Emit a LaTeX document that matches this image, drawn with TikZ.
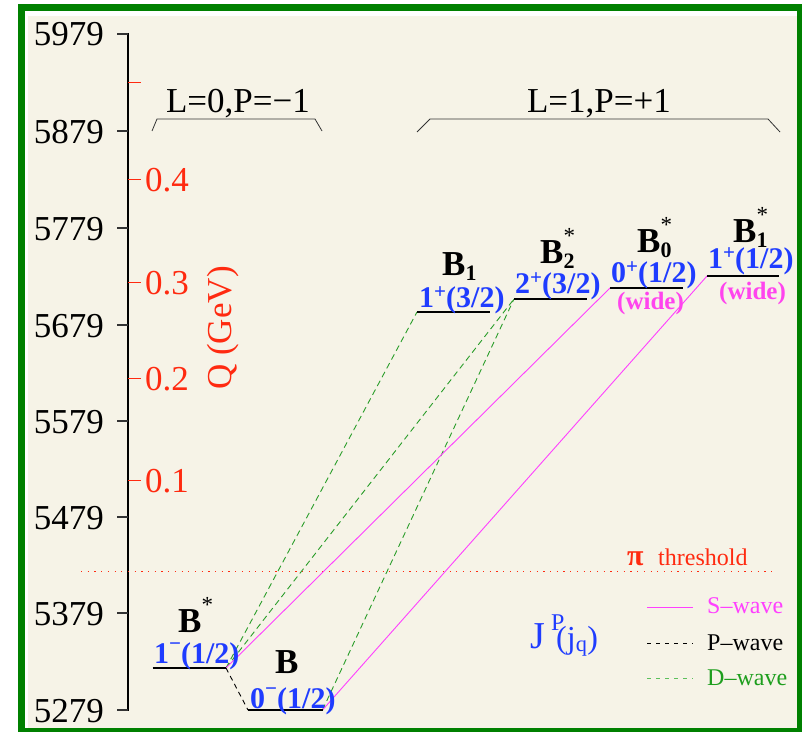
\documentclass[tikz,border=0pt]{standalone}
\usepackage{fontspec}
\setmainfont{Liberation Serif}
\definecolor{bgc}{HTML}{F6F3E7}
\definecolor{fgreen}{HTML}{008000}
\definecolor{lblue}{HTML}{1F3CFF}
\definecolor{mag}{HTML}{FF40FF}
\definecolor{wpink}{HTML}{FF44EE}
\definecolor{qred}{HTML}{FF2A10}
\definecolor{dgreen}{HTML}{2A9D2A}
\definecolor{lgreen}{HTML}{5CC05C}
\definecolor{tgreen}{HTML}{1E9E1E}
\newcommand\Blab[2]{B\makebox[0pt][l]{\raisebox{0.55em}{\fontsize{23}{23}\selectfont\mdseries #2}}\raisebox{-0.15em}{\fontsize{22}{22}\selectfont #1}}
\newcommand\spl{\raisebox{0.30em}{\fontsize{21}{21}\selectfont +}}
\newcommand\smi{\raisebox{0.42em}{\fontsize{21}{21}\selectfont −}}
\begin{document}
\begin{tikzpicture}[x=1pt,y=-1pt,
  lev/.style={line width=2.6pt, black},
  swave/.style={line width=0.9pt, mag},
  pwave/.style={line width=0.9pt, black, dash pattern=on 5pt off 4pt},
  dwave/.style={line width=0.9pt, dgreen, dash pattern=on 6pt off 4pt},
  axlab/.style={anchor=base east, inner sep=0pt, font=\fontsize{35}{40}\selectfont},
  qlab/.style={anchor=base west, inner sep=0pt, text=qred, font=\fontsize{35}{40}\selectfont},
  blab/.style={anchor=base west, inner sep=0pt, text=lblue, font=\bfseries\fontsize{30}{34}\selectfont},
  mlab/.style={anchor=base west, inner sep=0pt, font=\bfseries\fontsize{35}{38}\selectfont},
  wlab/.style={anchor=base west, inner sep=0pt, text=wpink, font=\bfseries\fontsize{25}{28}\selectfont},
  leglab/.style={anchor=base west, inner sep=0pt, font=\fontsize{24}{28}\selectfont},
  hdr/.style={anchor=base, inner sep=0pt, font=\fontsize{35}{40}\selectfont},
  btick/.style={line width=1.2pt, black!80},
  rtick/.style={line width=1pt, qred}]
\useasboundingbox (0,0) rectangle (802,733);
% frame
\fill[white] (0,0) rectangle (802,733);
\fill[fgreen] (18,4) rectangle (802,732);
\fill[white] (25,11) rectangle (797,728);
\fill[bgc] (28,16) rectangle (797,728);
% mass axis
\draw[line width=2pt] (128,33) -- (128,711);
\foreach \m/\yy in {5979/34,5879/131,5779/228,5679/325,5579/421,5479/517,5379/613,5279/710} {
  \draw[btick] (117,\yy) -- (128,\yy);
  \node[axlab] (m\m) at (104,\yy+12) {\m};
}
% Q axis
\draw[rtick] (128,83) -- (141,83);
\foreach \q/\yy in {0.4/179,0.3/282,0.2/378,0.1/480} {
  \draw[rtick] (128,\yy) -- (141,\yy);
  \node[qlab] (q\q) at (145,\yy+12) {\q};
}
\node[rotate=90, text=qred, inner sep=0pt, font=\fontsize{35}{40}\selectfont] (qtitle) at (223,328) {Q (GeV)};
% headers
\draw[line width=0.8pt, black!80] (152,131) -- (157,119) -- (315,119) -- (322,131);
\draw[line width=0.8pt, black!80] (417,132) -- (430,119) -- (768,119) -- (780,132);
\node[hdr] (h0) at (238,113) {L=0,P=−1};
\node[hdr] (h1) at (599,113) {L=1,P=+1};
% threshold
\coordinate (thL) at (81,571);
\coordinate (thR) at (777,571);
\draw[qred, line width=0.9pt, dash pattern=on 1.2pt off 5.5pt] (thL) -- (thR);
\node[anchor=base west, inner sep=0pt, text=qred, font=\bfseries\fontsize{30}{34}\selectfont] (pi) at (627,565) {π};
\node[anchor=base west, inner sep=0pt, text=qred, font=\fontsize{24}{28}\selectfont] (thr) at (658,565) {threshold};
% level coordinates
\coordinate (BsL) at (152.5,668); \coordinate (BsR) at (226,668);
\coordinate (BL) at (248,710); \coordinate (BR) at (322.5,710);
\coordinate (B1L) at (417,312); \coordinate (B1R) at (490,312);
\coordinate (B2L) at (514,299); \coordinate (B2R) at (587,299);
\coordinate (B0L) at (610,288); \coordinate (B0R) at (683,288);
\coordinate (B1sL) at (707,276); \coordinate (B1sR) at (779,276);
% transitions
\draw[dwave] (BsR) -- (B1L);
\draw[dwave] (BsR) -- (B2L);
\draw[dwave] (BR) -- (B2L);
\draw[swave] (BsR) -- (B0L);
\draw[swave] (BR) -- (B1sL);
\draw[pwave] (BsR) -- (BL);
% levels
\foreach \a/\b in {BsL/BsR,BL/BR,B1L/B1R,B2L/B2R,B0L/B0R,B1sL/B1sR}
  \draw[lev] (\a) -- (\b);
% meson names
\node[mlab] (nBs) at (178,632) {\Blab{}{*}};
\node[mlab] (nB) at (275,673) {B};
\node[mlab] (nB1) at (442,275) {\Blab{1}{}};
\node[mlab] (nB2) at (540,263) {\Blab{2}{*}};
\node[mlab] (nB0) at (637,252) {\Blab{0}{*}};
\node[mlab] (nB1s) at (733,242) {\Blab{1}{*}};
% quantum numbers
\node[blab] (jBs) at (154,663) {1\smi(1/2)};
\node[blab] (jB) at (250,708) {0\smi(1/2)};
\node[blab] (jB1) at (419,307) {1\spl(3/2)};
\node[blab] (jB2) at (515,293) {2\spl(3/2)};
\node[blab] (jB0) at (611,282) {0\spl(1/2)};
\node[blab] (jB1s) at (708,268) {1\spl(1/2)};
\node[wlab] (wB0) at (617,309) {(wide)};
\node[wlab] (wB1s) at (719,299) {(wide)};
% JP label
\node[anchor=base west, inner sep=0pt, text=lblue, font=\fontsize{38}{40}\selectfont] (JJ) at (530,648) {J};
\node[anchor=base west, inner sep=0pt, text=lblue, font=\fontsize{24}{26}\selectfont] (JP) at (551,630) {P};
\node[anchor=base west, inner sep=0pt, text=lblue, font=\fontsize{32}{36}\selectfont] (Jj) at (556,648) {(j\textsubscript{q})};
% legend
\coordinate (sA) at (647,607); \coordinate (sB) at (693,607);
\coordinate (pA) at (647,643); \coordinate (pB) at (693,643);
\coordinate (dA) at (647,678); \coordinate (dB) at (693,678);
\draw[mag, line width=0.9pt] (sA) -- (sB);
\draw[black, line width=0.9pt, dash pattern=on 4pt off 5pt] (pA) -- (pB);
\draw[lgreen, line width=0.9pt, dash pattern=on 4pt off 5pt] (dA) -- (dB);
\node[leglab, text=mag] (ls) at (707,613) {S--wave};
\node[leglab, text=black] (lp) at (707,650) {P--wave};
\node[leglab, text=tgreen] (ld) at (707,685) {D--wave};
\end{tikzpicture}
\end{document}
